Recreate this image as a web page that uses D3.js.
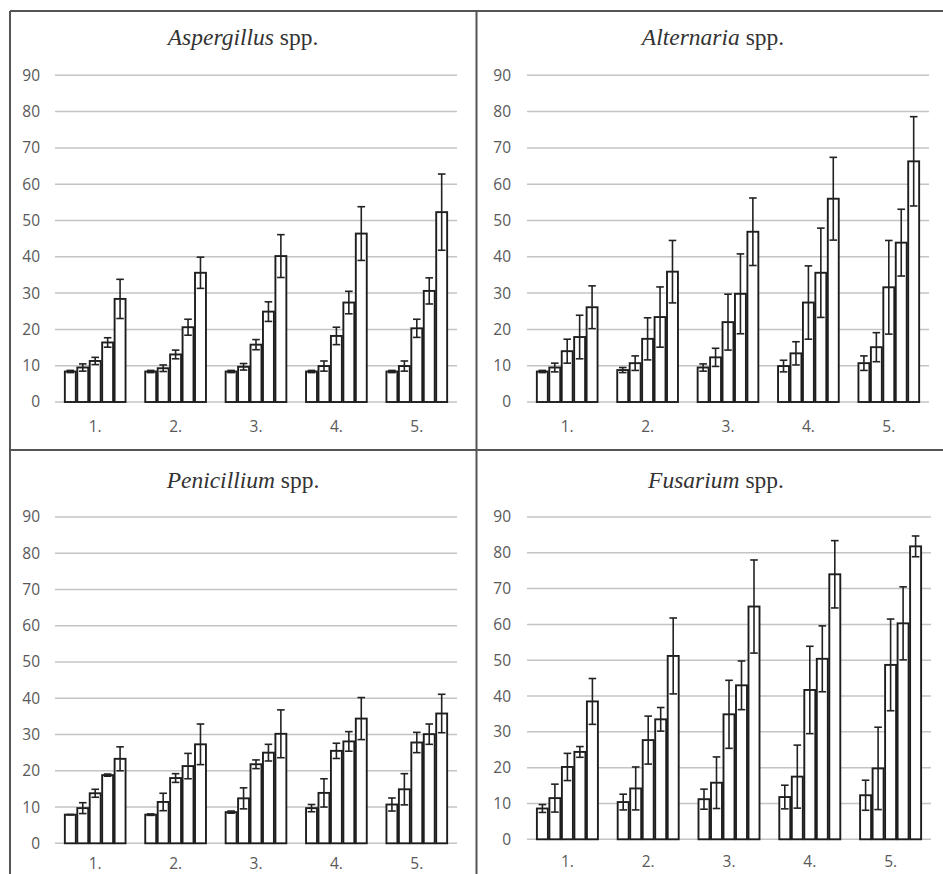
<!DOCTYPE html>
<html><head><meta charset="utf-8">
<script src="https://cdn.jsdelivr.net/npm/d3@7"></script>
<style>body{margin:0;background:#fff}svg{display:block}</style>
</head><body>
<svg id="chart" width="943" height="874"></svg>
<script>
// ---- data ----
const categories = ["1.", "2.", "3.", "4.", "5."];
const seriesKeys = ["a", "b", "c", "d", "e"];
const yTickValues = [0, 10, 20, 30, 40, 50, 60, 70, 80, 90];
const genusNames = ["Aspergillus", "Alternaria", "Penicillium", "Fusarium"];

const aspergillusMeans = [
  [8.4, 9.5, 11.3, 16.4, 28.4],
  [8.4, 9.3, 13.1, 20.6, 35.6],
  [8.4, 9.7, 15.8, 24.9, 40.2],
  [8.4, 9.9, 18.2, 27.4, 46.4],
  [8.4, 9.9, 20.3, 30.6, 52.3]
];
const aspergillusErrors = [
  [0.3, 1.0, 1.0, 1.3, 5.4],
  [0.3, 0.9, 1.2, 2.2, 4.3],
  [0.3, 0.9, 1.4, 2.7, 5.9],
  [0.3, 1.4, 2.4, 3.1, 7.4],
  [0.3, 1.4, 2.5, 3.6, 10.5]
];

const alternariaMeans = [
  [8.4, 9.5, 14.0, 17.9, 26.1],
  [8.8, 10.7, 17.4, 23.4, 35.9],
  [9.5, 12.3, 22.0, 29.8, 46.9],
  [9.9, 13.4, 27.4, 35.6, 56.0],
  [10.7, 15.1, 31.6, 43.9, 66.3]
];
const alternariaErrors = [
  [0.3, 1.2, 3.3, 6.0, 5.9],
  [0.7, 2.0, 5.8, 8.3, 8.6],
  [1.0, 2.5, 7.7, 11.0, 9.3],
  [1.6, 3.2, 10.1, 12.3, 11.4],
  [2.0, 4.0, 12.9, 9.2, 12.3]
];

const penicilliumMeans = [
  [7.9, 9.7, 13.8, 18.8, 23.3],
  [7.9, 11.4, 18.0, 21.3, 27.3],
  [8.6, 12.4, 21.8, 25.0, 30.2],
  [9.7, 13.9, 25.5, 28.1, 34.4],
  [10.7, 14.9, 27.8, 30.1, 35.8]
];
const penicilliumErrors = [
  [0.0, 1.5, 1.1, 0.3, 3.3],
  [0.2, 2.4, 1.2, 3.5, 5.6],
  [0.3, 2.9, 1.2, 2.3, 6.6],
  [1.0, 3.9, 2.1, 2.7, 5.8],
  [1.8, 4.3, 2.8, 2.8, 5.3]
];

const fusariumMeans = [
  [8.6, 11.5, 20.2, 24.4, 38.5],
  [10.4, 14.2, 27.7, 33.5, 51.2],
  [11.2, 15.8, 34.9, 43.0, 65.0],
  [11.8, 17.5, 41.7, 50.4, 74.0],
  [12.3, 19.8, 48.7, 60.3, 81.8]
];
const fusariumErrors = [
  [1.1, 3.9, 3.8, 1.5, 6.4],
  [2.2, 6.0, 6.7, 3.3, 10.6],
  [2.8, 7.2, 9.5, 6.8, 13.0],
  [3.3, 8.8, 12.2, 9.2, 9.4],
  [4.2, 11.5, 12.8, 10.2, 2.9]
];

// ---- layout ----
const panels = [
  { genus: genusNames[0], means: aspergillusMeans, errs: aspergillusErrors,
    x0: 55, x1: 457, yTop: 75.3, yBot: 402, titleX: 243, titleY: 45, labY: 435, tickRight: 40 },
  { genus: genusNames[1], means: alternariaMeans, errs: alternariaErrors,
    x0: 527, x1: 929, yTop: 75.3, yBot: 402, titleX: 713, titleY: 45, labY: 435, tickRight: 511 },
  { genus: genusNames[2], means: penicilliumMeans, errs: penicilliumErrors,
    x0: 55, x1: 457, yTop: 517, yBot: 843.3, titleX: 243, titleY: 488, labY: 872, tickRight: 40 },
  { genus: genusNames[3], means: fusariumMeans, errs: fusariumErrors,
    x0: 527, x1: 931, yTop: 517, yBot: 839.3, titleX: 716, titleY: 488, labY: 870, tickRight: 511 }
];

const svg = d3.select("#chart");
svg.append("rect").attr("width", 943).attr("height", 874).attr("fill", "#fff");

panels.forEach(p => {
  const g = svg.append("g");
  const y = d3.scaleLinear().domain([0, 90]).range([p.yBot, p.yTop]);
  const x = d3.scaleBand().domain(categories).range([p.x0, p.x1]).paddingInner(0.245).paddingOuter(0.1225);
  const xs = d3.scaleBand().domain(seriesKeys).range([0, x.bandwidth()]).paddingInner(0.12);

  // gridlines
  g.append("g").selectAll("line").data(yTickValues).join("line")
    .attr("x1", p.x0).attr("x2", p.x1)
    .attr("y1", d => y(d)).attr("y2", d => y(d))
    .attr("stroke", "#c4c4c4").attr("stroke-width", 1.5);

  // y axis labels
  const yAxis = d3.axisLeft(y).tickValues(yTickValues).tickSize(0).tickPadding(0);
  const ya = g.append("g").attr("transform", `translate(${p.tickRight},0)`).call(yAxis);
  ya.select(".domain").remove();
  ya.selectAll("text").attr("font-family", "'Open Sans', sans-serif").attr("font-size", 15.5).attr("fill", "#595959");

  // x axis labels
  const xAxis = d3.axisBottom(x).tickSize(0).tickPadding(0);
  const xa = g.append("g").attr("transform", `translate(0,${p.labY})`).call(xAxis);
  xa.select(".domain").remove();
  xa.selectAll("text").attr("font-family", "'Open Sans', sans-serif").attr("font-size", 15.5).attr("fill", "#595959").attr("dy", "-0.2em");

  // bars
  const rows = [];
  p.means.forEach((grp, gi) => grp.forEach((v, si) => rows.push({ cat: categories[gi], key: seriesKeys[si], v, e: p.errs[gi][si] })));
  const bars = g.append("g");
  bars.selectAll("rect").data(rows).join("rect")
    .attr("x", d => x(d.cat) + xs(d.key))
    .attr("y", d => y(d.v))
    .attr("width", xs.bandwidth())
    .attr("height", d => y(0) - y(d.v))
    .attr("fill", "#fff").attr("stroke", "#1e1e1e").attr("stroke-width", 1.9);

  // error bars
  const eg = g.append("g").attr("stroke", "#222").attr("stroke-width", 1.6);
  const cap = 3.8;
  rows.forEach(d => {
    const cx = x(d.cat) + xs(d.key) + xs.bandwidth() / 2;
    const lo = y(d.v - d.e), hi = y(d.v + d.e);
    eg.append("line").attr("x1", cx).attr("x2", cx).attr("y1", lo).attr("y2", hi);
    eg.append("line").attr("x1", cx - cap).attr("x2", cx + cap).attr("y1", hi).attr("y2", hi);
    eg.append("line").attr("x1", cx - cap).attr("x2", cx + cap).attr("y1", lo).attr("y2", lo);
  });

  // title
  const t = g.append("text").attr("x", p.titleX).attr("y", p.titleY).attr("text-anchor", "middle")
    .attr("font-family", "'Liberation Serif', 'Times New Roman', serif").attr("font-size", 23.5).attr("fill", "#333");
  t.append("tspan").attr("font-style", "italic").text(p.genus);
  t.append("tspan").text(" spp.");
});

// frame lines
const frame = svg.append("g").attr("stroke", "#555").attr("stroke-width", 2);
frame.append("line").attr("x1", 10).attr("x2", 943).attr("y1", 11).attr("y2", 11);
frame.append("line").attr("x1", 10).attr("x2", 10).attr("y1", 11).attr("y2", 874);
frame.append("line").attr("x1", 476.5).attr("x2", 476.5).attr("y1", 11).attr("y2", 874);
frame.append("line").attr("x1", 10).attr("x2", 943).attr("y1", 450).attr("y2", 450);
</script>
</body></html>
